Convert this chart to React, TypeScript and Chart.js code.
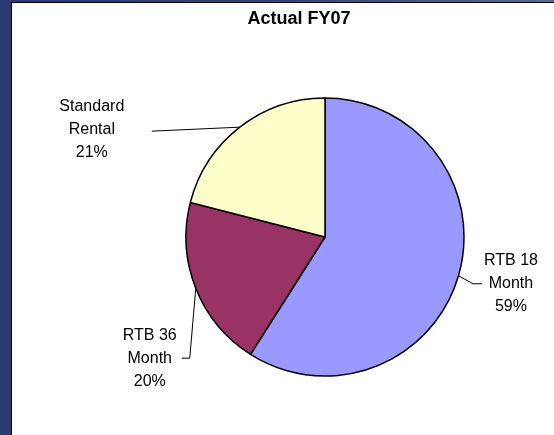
import { useEffect, useRef } from "react";
import { Chart, registerables } from "chart.js";

Chart.register(...registerables);

const title = "Actual FY07";
const categories = ["RTB 18 Month", "RTB 36 Month", "Standard Rental"];
const labelLines = [
  ["RTB 18", "Month"],
  ["RTB 36", "Month"],
  ["Standard", "Rental"],
];
const values = [59, 20, 21];
const sliceColors = ["#9999FF", "#993366", "#FFFFCC"];

// Leader line bends and text anchor, relative to the slice's outer edge at its mid-angle
const leaderStyles = [
  { path: [[14.5, 8], [23.5, 8]], text: [52.5, 8] },
  { path: [[-6, 70], [-14, 70]], text: [-46, 70] },
  { path: [[-88, 4]], text: [-148, 2] },
];

const FONT = '"Liberation Sans", Arial, sans-serif';

const pieLabels = {
  id: "pieLabels",
  afterDraw(chart: any) {
    const ctx = chart.ctx as CanvasRenderingContext2D;
    const meta = chart.getDatasetMeta(0);
    const total = values.reduce((a, b) => a + b, 0);
    ctx.save();
    meta.data.forEach((arc: any, i: number) => {
      const { x, y, startAngle, endAngle, outerRadius } = arc.getProps(
        ["x", "y", "startAngle", "endAngle", "outerRadius"],
        true
      );
      const mid = (startAngle + endAngle) / 2;
      const ex = x + Math.cos(mid) * outerRadius;
      const ey = y + Math.sin(mid) * outerRadius;
      const st = leaderStyles[i];
      ctx.strokeStyle = "#000";
      ctx.lineWidth = 1;
      ctx.beginPath();
      ctx.moveTo(ex, ey);
      st.path.forEach(([dx, dy]) => ctx.lineTo(ex + dx, ey + dy));
      ctx.stroke();

      const tx = ex + st.text[0];
      const ty = ey + st.text[1];
      const pct = Math.round((values[i] / total) * 100) + "%";
      const lines = [...labelLines[i], pct];
      ctx.fillStyle = "#000";
      ctx.font = `16px ${FONT}`;
      ctx.textAlign = "center";
      ctx.textBaseline = "middle";
      lines.forEach((t, k) => ctx.fillText(t, tx, ty + (k - 1) * 23));
    });

    ctx.font = `bold 18px ${FONT}`;
    ctx.textAlign = "center";
    ctx.textBaseline = "middle";
    ctx.fillStyle = "#000";
    ctx.fillText(title, 287, 16);
    ctx.restore();
  },
};

export default function App() {
  const ref = useRef<HTMLCanvasElement>(null);

  useEffect(() => {
    if (!ref.current) return;
    const chart = new Chart(ref.current, {
      type: "pie",
      data: {
        labels: categories,
        datasets: [
          {
            data: values,
            backgroundColor: sliceColors,
            borderColor: "#000",
            borderWidth: 1.5,
          },
        ],
      },
      options: {
        responsive: false,
        animation: false,
        devicePixelRatio: 1,
        radius: 139,
        layout: { padding: { left: 84, top: 36, right: 0, bottom: 0 } },
        plugins: {
          legend: { display: false },
          title: { display: false },
          tooltip: { enabled: false },
        },
      },
      plugins: [pieLabels],
    });
    return () => chart.destroy();
  }, []);

  return (
    <div
      style={{
        position: "fixed",
        left: 0,
        top: 0,
        width: 554,
        height: 435,
        overflow: "hidden",
        background:
          "linear-gradient(90deg, #2a3970 0%, #33427a 50%, #5a6996 100%)",
      }}
    >
      <div
        style={{
          position: "absolute",
          left: 11,
          top: 2,
          width: 543,
          height: 433,
          borderLeft: "1px solid #000",
          borderTop: "1px solid #000",
          background: "#fff",
        }}
      >
        <canvas ref={ref} width={542} height={432} style={{ display: "block" }} />
      </div>
    </div>
  );
}
